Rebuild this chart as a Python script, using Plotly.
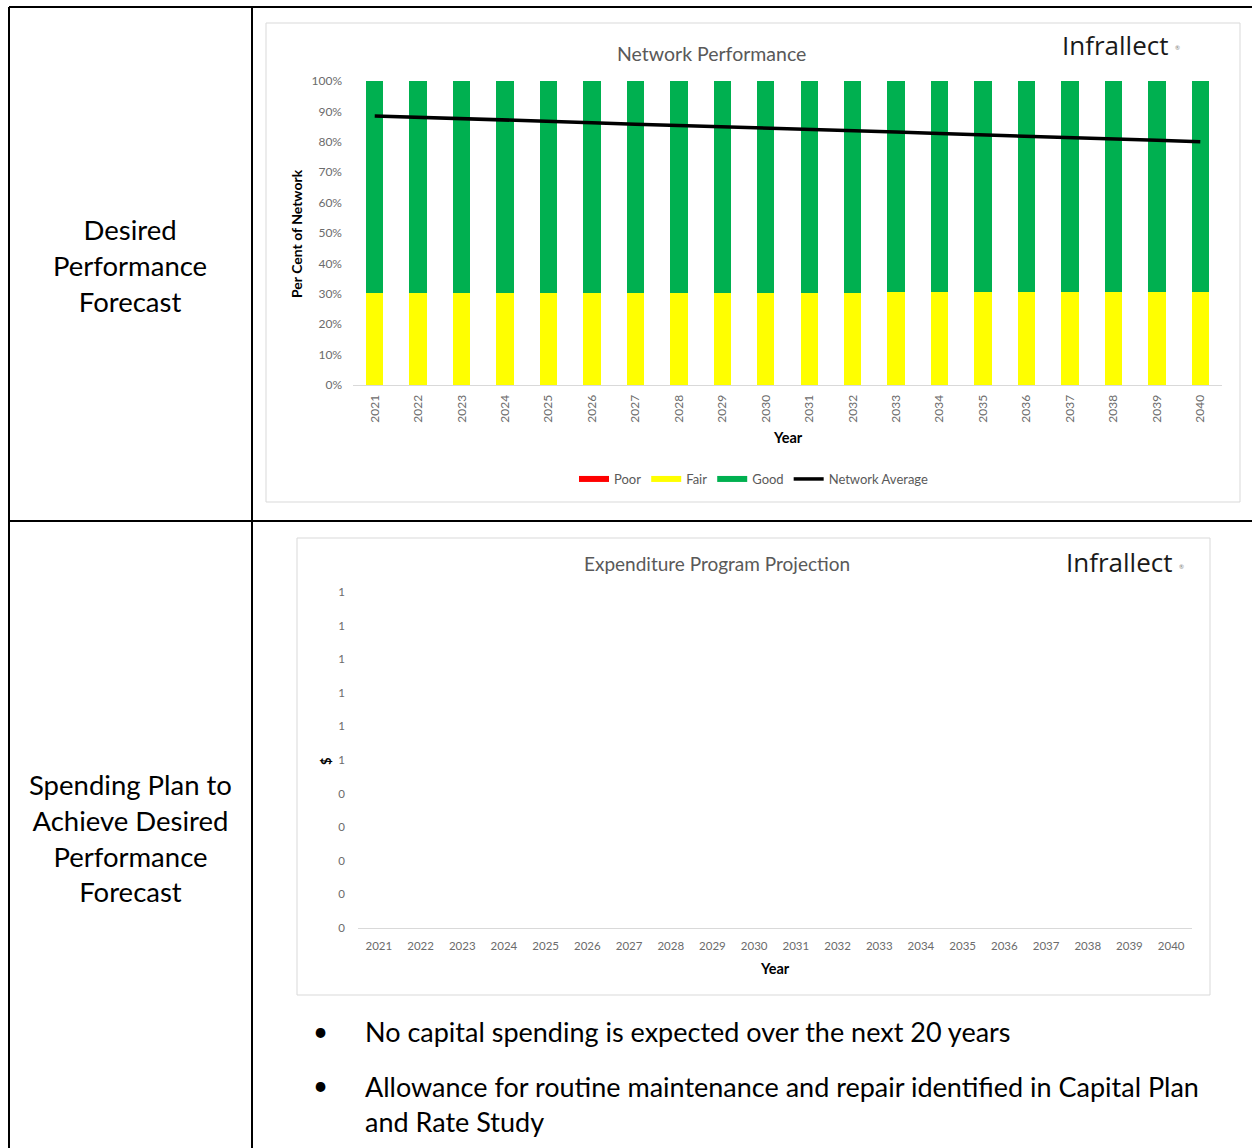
import plotly.graph_objects as go

W, H = 1252, 1148


def px(x):
    return x / W


def py(y):
    return 1 - y / H


# ---- data -------------------------------------------------------------
years = [str(y) for y in range(2021, 2041)]

poor_share = [0.0, 0.0, 0.0, 0.0, 0.0, 0.0, 0.0, 0.0, 0.0, 0.0,
              0.0, 0.0, 0.0, 0.0, 0.0, 0.0, 0.0, 0.0, 0.0, 0.0]
fair_share = [0.303, 0.303, 0.303, 0.303, 0.303, 0.303, 0.303, 0.303, 0.303, 0.303,
              0.303, 0.303, 0.306, 0.306, 0.306, 0.306, 0.306, 0.306, 0.306, 0.306]
good_share = [0.697, 0.697, 0.697, 0.697, 0.697, 0.697, 0.697, 0.697, 0.697, 0.697,
              0.697, 0.697, 0.694, 0.694, 0.694, 0.694, 0.694, 0.694, 0.694, 0.694]
network_average = [0.885, 0.881, 0.876, 0.872, 0.867, 0.863, 0.858, 0.854, 0.849, 0.845,
                   0.841, 0.836, 0.832, 0.827, 0.823, 0.818, 0.814, 0.809, 0.805, 0.800]

capital_spend = [0, 0, 0, 0, 0, 0, 0, 0, 0, 0,
                 0, 0, 0, 0, 0, 0, 0, 0, 0, 0]

row_labels = ["Desired<br>Performance<br>Forecast",
              "Spending Plan to<br>Achieve Desired<br>Performance<br>Forecast"]
bullet_lines = ["No capital spending is expected over the next 20 years",
                "Allowance for routine maintenance and repair identified in Capital Plan<br>and Rate Study"]

# ---- styling ----------------------------------------------------------
FONT = "Lato"
GREY = "#595959"
TICK_GREY = "#6b6b6b"
AXIS_LINE = "#d9d9d9"
COLORS = {"Poor": "#ff0000", "Fair": "#ffff00", "Good": "#00b050"}

fig = go.Figure()

# Network performance stacked bars (legend swatches drawn separately as wide strips)
for name, vals in (("Poor", poor_share), ("Fair", fair_share), ("Good", good_share)):
    fig.add_trace(go.Bar(x=years, y=vals, name=name, marker_color=COLORS[name],
                         marker_line_width=0, width=0.4, legendgroup=name,
                         showlegend=False, xaxis="x", yaxis="y"))
    fig.add_trace(go.Scatter(x=[None], y=[None], name=name, mode="lines",
                             line=dict(color=COLORS[name], width=6), legendgroup=name,
                             xaxis="x", yaxis="y"))

fig.add_trace(go.Scatter(x=years, y=network_average, name="Network Average", mode="lines",
                         line=dict(color="black", width=3.5), xaxis="x", yaxis="y"))

# Expenditure projection
fig.add_trace(go.Bar(x=years, y=capital_spend, name="Expenditure", marker_color="#4472c4",
                     width=0.5, showlegend=False, xaxis="x2", yaxis="y2"))

tick_font = dict(family=FONT, size=12, color=TICK_GREY)
tick_font2 = dict(family=FONT, size=11.5, color=TICK_GREY)

fig.update_layout(
    width=W, height=H, autosize=False,
    margin=dict(l=0, r=0, t=0, b=0, autoexpand=False),
    paper_bgcolor="white", plot_bgcolor="white",
    barmode="stack",
    font=dict(family=FONT, color=GREY),
    xaxis=dict(domain=[px(353), px(1222)], anchor="y", type="category",
               tickangle=-90, tickfont=tick_font, showgrid=False,
               showline=True, linecolor=AXIS_LINE, linewidth=1, ticks="",
               ticklabelstandoff=4, fixedrange=True),
    yaxis=dict(domain=[py(385), py(81)], anchor="x", range=[0, 1], dtick=0.1,
               tickformat=".0%", tickfont=tick_font, showgrid=False,
               zeroline=False, showline=False, ticks="", ticklabelstandoff=10),
    xaxis2=dict(domain=[px(358), px(1192)], anchor="y2", type="category",
                tickfont=tick_font2, showgrid=False, showline=True,
                linecolor=AXIS_LINE, linewidth=1, ticks="", ticklabelstandoff=7),
    yaxis2=dict(domain=[py(928), py(592)], anchor="x2", range=[0, 1], dtick=0.1,
                tickformat=".0f", tickfont=tick_font2, showgrid=False,
                zeroline=False, showline=False, ticks="", ticklabelstandoff=12),
    legend=dict(orientation="h", x=px(574), y=py(479), xanchor="left", yanchor="middle",
                font=dict(family=FONT, size=13, color=GREY), itemwidth=30,
                traceorder="normal", bgcolor="rgba(0,0,0,0)"),
)

shapes = []
# chart frames
shapes.append(dict(type="rect", xref="paper", yref="paper",
                   x0=px(266), x1=px(1240), y0=py(502), y1=py(23),
                   line=dict(color=AXIS_LINE, width=1)))
shapes.append(dict(type="rect", xref="paper", yref="paper",
                   x0=px(297), x1=px(1210), y0=py(995), y1=py(538),
                   line=dict(color=AXIS_LINE, width=1)))
# table rules
rule = dict(color="black", width=2)
shapes.append(dict(type="line", xref="paper", yref="paper",
                   x0=px(9), x1=px(1252), y0=py(7), y1=py(7), line=rule))
shapes.append(dict(type="line", xref="paper", yref="paper",
                   x0=px(9), x1=px(1252), y0=py(521), y1=py(521), line=rule))
shapes.append(dict(type="line", xref="paper", yref="paper",
                   x0=px(9), x1=px(9), y0=py(7), y1=py(1148), line=rule))
shapes.append(dict(type="line", xref="paper", yref="paper",
                   x0=px(252), x1=px(252), y0=py(7), y1=py(1148), line=rule))
fig.update_layout(shapes=shapes)

ann = []


def text(x, y, s, size, color=GREY, xanchor="center", yanchor="middle", angle=0,
         family=FONT, align="center"):
    ann.append(dict(xref="paper", yref="paper", x=px(x), y=py(y), text=s,
                    showarrow=False, xanchor=xanchor, yanchor=yanchor, textangle=angle,
                    align=align, font=dict(family=family, size=size, color=color)))


# chart titles and branding
text(711, 53, "Network Performance", 19.5)
text(717, 563, "Expenditure Program Projection", 19)
text(1060, 45, "Infrallect", 26, color="#1a1a1a", xanchor="left", family="Open Sans")
text(1064, 562, "Infrallect", 26, color="#1a1a1a", xanchor="left", family="Open Sans")
text(1177, 48, "®", 6, color="#808080")
text(1181, 566, "®", 6, color="#808080")

# axis titles
text(296, 234, "<b>Per Cent of Network</b>", 14, color="black", angle=-90)
text(788, 438, "<b>Year</b>", 14.5, color="black")
text(326, 761, "<b>$</b>", 13, color="black", angle=-90)
text(775, 968, "<b>Year</b>", 14.5, color="black")

# row headers
text(130, 265, row_labels[0], 27.5, color="black")
text(130, 838, row_labels[1], 27.5, color="black")

# bullet notes
text(320, 1031, "•", 26, color="black")
text(363, 1031, bullet_lines[0], 27, color="black", xanchor="left", align="left")
text(320, 1085, "•", 26, color="black")
text(363, 1068, bullet_lines[1], 27, color="black", xanchor="left", yanchor="top", align="left")

fig.update_layout(annotations=ann)

fig.write_html("out.html", post_script="document.body.style.margin='0';")
